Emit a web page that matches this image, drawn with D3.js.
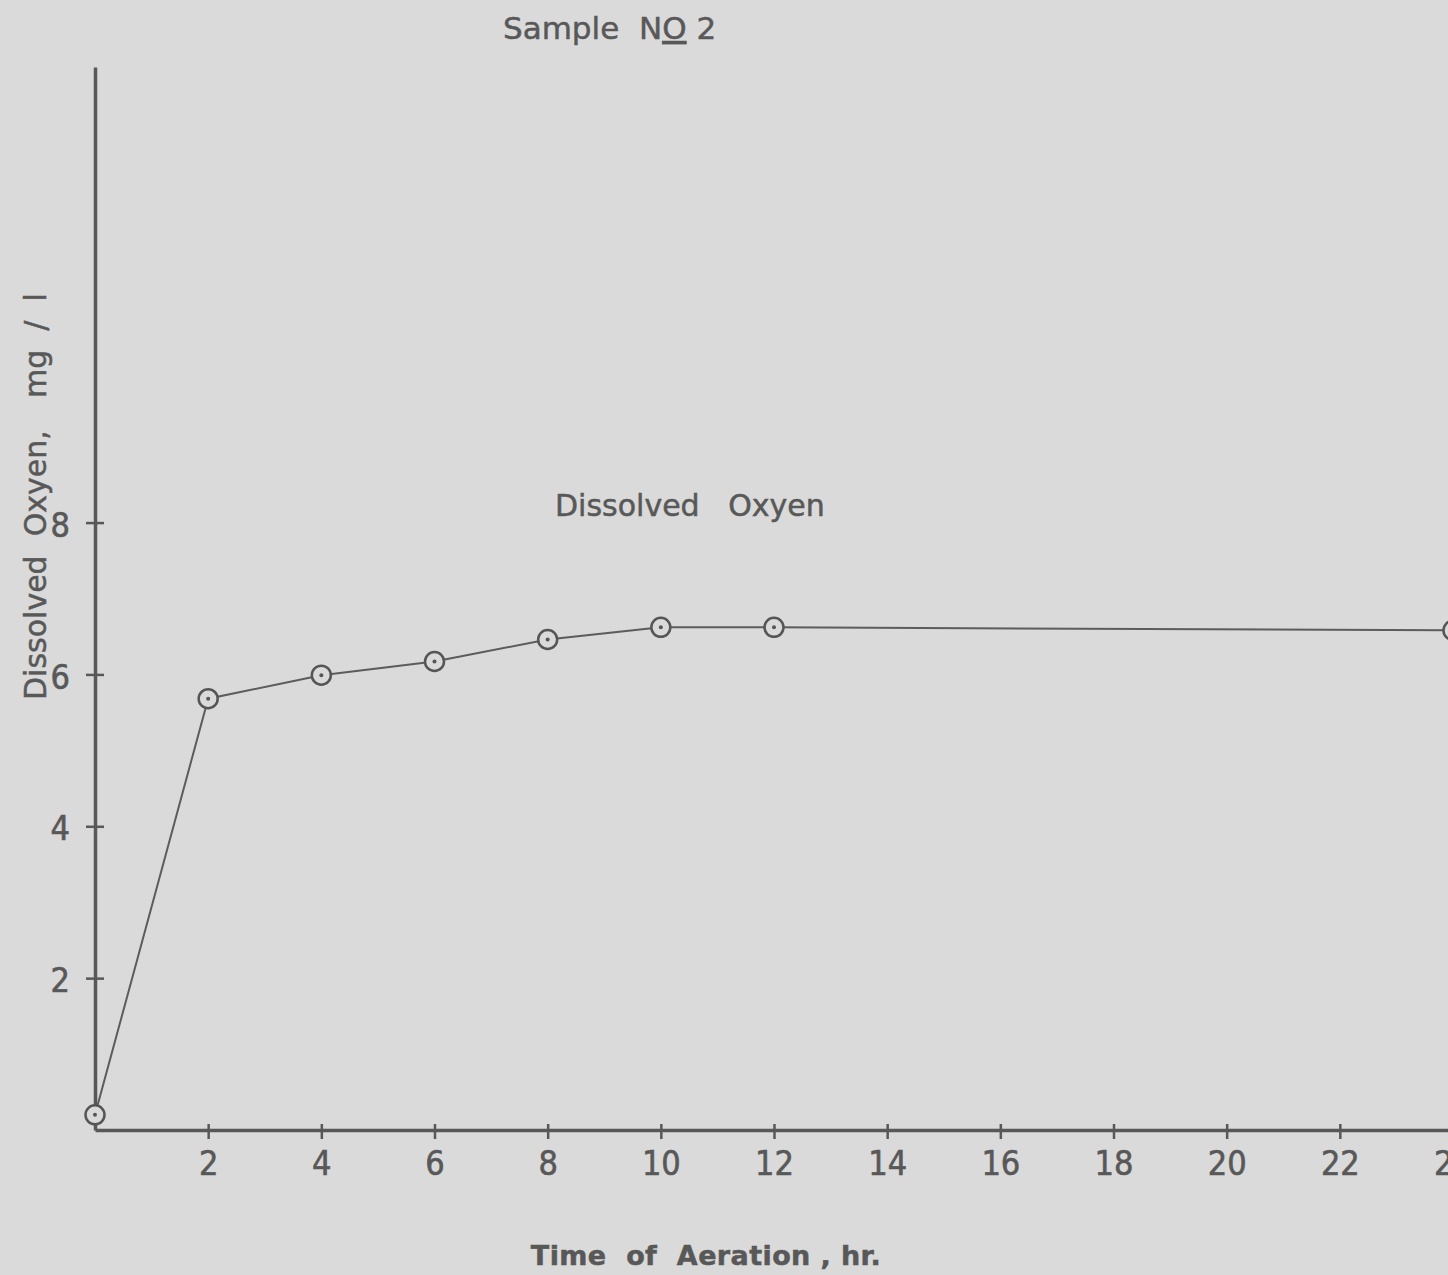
<!DOCTYPE html>
<meta charset="utf-8">
<style>
  body { margin: 0; background: #dadada; }
  svg { display: block; }
  .lbl { font-family: "DejaVu Sans", sans-serif; fill: #585858; stroke: #585858; stroke-width: 0.5; white-space: pre; }
  .axis path, .axis line { stroke: #585858; }
  .axis text { font-family: "DejaVu Sans Condensed", "DejaVu Sans", sans-serif; fill: #585858; stroke: #585858; stroke-width: 0.6; font-size: 34px; }
</style>
<body>
<svg></svg>
<script src="https://d3js.org/d3.v7.min.js"></script>
<script>
// hours of aeration and dissolved oxygen (mg/l)
var hours  = [0, 2, 4, 6, 8, 10, 12, 24];
var oxygen = [0.2, 5.68, 5.99, 6.17, 6.46, 6.62, 6.62, 6.58];
var xTicks = [2, 4, 6, 8, 10, 12, 14, 16, 18, 20, 22, 24];
var yTicks = [2, 4, 6, 8];

var W = 1448, H = 1275;

var svg = d3.select("svg")
    .attr("width", W)
    .attr("height", H);

svg.append("rect")
    .attr("width", W).attr("height", H)
    .attr("fill", "#dadada");

var x = d3.scaleLinear().domain([0, 24]).range([95, 1453]);
var y = d3.scaleLinear().domain([0, 14]).range([1130, 67]);

// y axis
var yAxis = svg.append("g")
    .attr("class", "axis")
    .attr("transform", "translate(" + x(0) + ",0)")
    .call(d3.axisLeft(y).tickValues(yTicks).tickSizeInner(9).tickSizeOuter(0).tickPadding(16));
yAxis.select(".domain").attr("stroke-width", 3.5);
yAxis.selectAll(".tick line").attr("x2", 9).attr("x1", -9).attr("stroke-width", 2.5);
yAxis.selectAll(".tick text").attr("dy", "0.4em");

// x axis
var xAxis = svg.append("g")
    .attr("class", "axis")
    .attr("transform", "translate(0," + y(0) + ")")
    .call(d3.axisBottom(x).tickValues(xTicks).tickSizeInner(9).tickSizeOuter(0).tickPadding(12));
xAxis.select(".domain").attr("stroke-width", 3.5);
xAxis.selectAll(".tick line").attr("y1", -6).attr("y2", 9).attr("stroke-width", 2.5);

// data line
var line = d3.line()
    .x(function(d, i) { return x(hours[i]); })
    .y(function(d) { return y(d); });

svg.append("path")
    .datum(oxygen)
    .attr("fill", "none")
    .attr("stroke", "#5c5c5c")
    .attr("stroke-width", 2)
    .attr("d", line);

// circled points with a centre dot
var pts = svg.selectAll(".pt")
    .data(oxygen)
    .enter().append("g")
    .attr("class", "pt")
    .attr("transform", function(d, i) { return "translate(" + x(hours[i]) + "," + y(d) + ")"; });

pts.append("circle")
    .attr("r", 9.5)
    .attr("fill", "#dadada")
    .attr("stroke", "#555")
    .attr("stroke-width", 2.5);

pts.append("circle")
    .attr("r", 2)
    .attr("fill", "#555");

// title, with the O of "NO" underlined
var title = svg.append("text")
    .attr("class", "lbl")
    .attr("x", 503).attr("y", 39)
    .attr("font-size", 31);
title.append("tspan").text("Sample  N");
title.append("tspan").style("text-decoration", "underline").text("O");
title.append("tspan").text(" 2");

// series caption
svg.append("text")
    .attr("class", "lbl")
    .attr("x", 555).attr("y", 516)
    .attr("font-size", 30)
    .text("Dissolved   Oxyen");

// axis titles
svg.append("text")
    .attr("class", "lbl")
    .attr("x", 706).attr("y", 1265)
    .attr("text-anchor", "middle")
    .attr("font-size", 27)
    .attr("font-weight", "bold")
    .attr("letter-spacing", 0.4)
    .text("Time  of  Aeration , hr.");

var yt = svg.append("text")
    .attr("class", "lbl")
    .attr("transform", "translate(46,700) rotate(-90)")
    .attr("font-size", 30);
yt.append("tspan").attr("x", 0).text("Dissolved  Oxyen,");
yt.append("tspan").attr("x", 302).text("mg  /  l");
</script>
</body>
